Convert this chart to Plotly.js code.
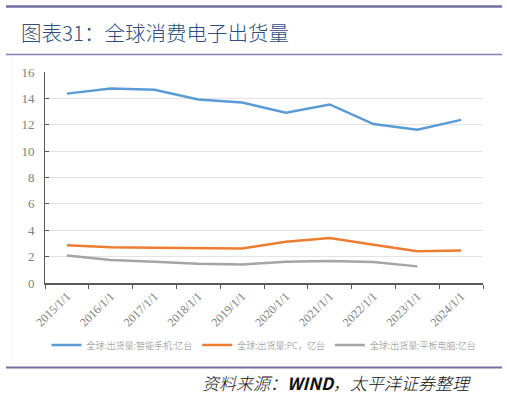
<!DOCTYPE html>
<html>
<head>
<meta charset="utf-8">
<script src="https://cdn.plot.ly/plotly-3.0.1.min.js"></script>
<style>
html,body{margin:0;padding:0;background:#fff;}
#chart{width:507px;height:394px;}
</style>
</head>
<body>
<div id="chart"></div>
<script>
var categories = ["2015/1/1","2016/1/1","2017/1/1","2018/1/1","2019/1/1","2020/1/1","2021/1/1","2022/1/1","2023/1/1","2024/1/1"];
var smartphone = [14.36, 14.74, 14.66, 13.92, 13.69, 12.91, 13.54, 12.05, 11.63, 12.37];
var pc = [2.87, 2.72, 2.67, 2.62, 2.62, 3.13, 3.41, 2.90, 2.41, 2.46];
var tablet = [2.08, 1.74, 1.62, 1.46, 1.41, 1.62, 1.67, 1.59, 1.26];
var seriesNames = ["全球:出货量:智能手机:亿台", "全球:出货量:PC，亿台", "全球:出货量:平板电脑:亿台"];
var yTicks = [0, 2, 4, 6, 8, 10, 12, 14, 16];

var L = 45, R = 483, T = 72, B = 283;
function py(p){ return (B - p) / (B - T); }
function px(p){ return (p - L) / (R - L); }

var serif = "Liberation Serif, Times New Roman, serif";

var traces = [
  {x: categories, y: smartphone, name: seriesNames[0], type: "scatter", mode: "lines", line: {color: "#5b9bd5", width: 2.5}},
  {x: categories, y: pc, name: seriesNames[1], type: "scatter", mode: "lines", line: {color: "#ed7d31", width: 2.5}},
  {x: categories.slice(0, tablet.length), y: tablet, name: seriesNames[2], type: "scatter", mode: "lines", line: {color: "#a5a5a5", width: 2.5}}
];

var layout = {
  width: 507, height: 394,
  margin: {l: L, r: 507 - R, t: T, b: 394 - B},
  paper_bgcolor: "#fff", plot_bgcolor: "#fff",
  showlegend: true,
  legend: {orientation: "h", x: 0.5, xanchor: "center", y: py(345), yanchor: "middle",
           font: {family: "Noto Sans CJK SC", size: 9, color: "#8a8a8a", weight: 300},
           itemwidth: 30, tracegroupgap: 0},
  xaxis: {type: "category", range: [-0.5, 9.5], tickson: "boundaries", ticks: "outside", ticklen: 4,
          tickcolor: "#595959", showline: true, linecolor: "#595959", linewidth: 1.5, showgrid: false,
          tickangle: -45, tickfont: {family: serif, size: 12, color: "#808080"}, fixedrange: true},
  yaxis: {range: [0, 16], tickvals: yTicks, ticktext: yTicks.map(function(v){ return v + "\u00a0\u00a0"; }), ticks: "inside", ticklen: 4,
          tickcolor: "#595959", showline: true, linecolor: "#595959", linewidth: 1.5,
          showgrid: true, gridcolor: "#e3e3e3", gridwidth: 1.2, zeroline: false,
          tickfont: {family: serif, size: 13, color: "#808080"}, fixedrange: true},
  shapes: [
    {type: "line", xref: "paper", yref: "paper", x0: px(6), x1: px(502), y0: py(6.5), y1: py(6.5), line: {color: "#7070a0", width: 2.5}},
    {type: "line", xref: "paper", yref: "paper", x0: px(6), x1: px(502), y0: py(54.5), y1: py(54.5), line: {color: "#8080b0", width: 1.5}},
    {type: "line", xref: "paper", yref: "paper", x0: px(6), x1: px(502), y0: py(367.5), y1: py(367.5), line: {color: "#7070a0", width: 2}},
    {type: "line", xref: "paper", yref: "paper", x0: px(12), x1: px(12), y0: py(58), y1: py(358), line: {color: "#f0f0f0", width: 1}}
  ],
  annotations: [
    {xref: "paper", yref: "paper", x: px(19), y: py(32), xanchor: "left", yanchor: "middle", showarrow: false,
     text: "图表31：全球消费电子出货量", font: {family: "Noto Sans CJK SC", size: 20.5, color: "#2f4d7e", weight: 300}},
    {xref: "paper", yref: "paper", x: px(473), y: py(382), xanchor: "right", yanchor: "middle", showarrow: false,
     text: "<i>资料来源：<b>WIND</b>，太平洋证券整理</i>", font: {family: "Noto Sans CJK SC", size: 17, color: "#111", weight: 300}}
  ]
};

Plotly.newPlot("chart", traces, layout, {displayModeBar: false, staticPlot: true});
</script>
</body>
</html>
